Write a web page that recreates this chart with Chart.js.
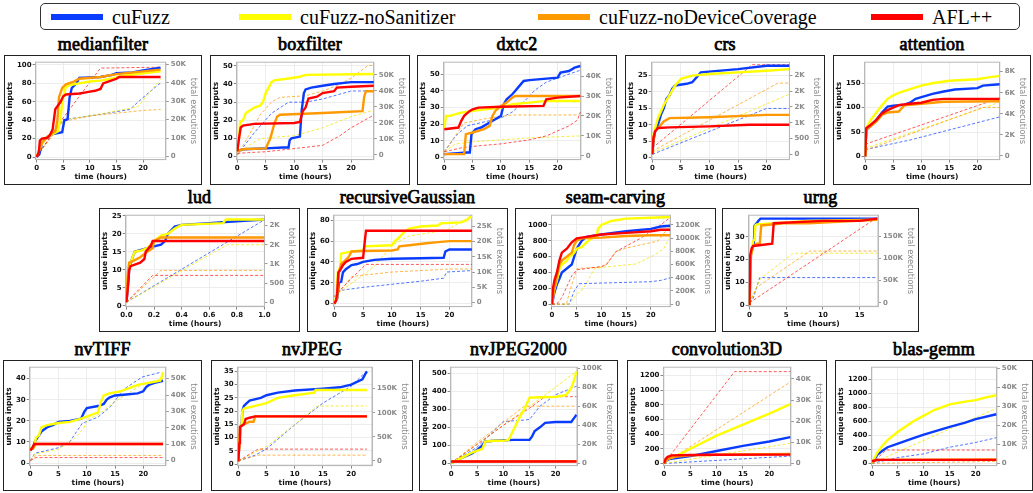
<!DOCTYPE html>
<html>
<head>
<meta charset="utf-8">
<script src="https://cdn.jsdelivr.net/npm/chart.js@4.4.0/dist/chart.umd.min.js"></script>
<style>
body { margin: 0; width: 1033px; height: 493px; background: #fff; position: relative; overflow: hidden; }
.legend { position: absolute; left: 40px; top: 3px; width: 980px; height: 27px; border: 1px solid #333; border-radius: 5px; box-sizing: border-box; font-family: "Liberation Serif", serif; font-size: 20px; }
.item { position: absolute; top: 1px; height: 24px; display: flex; align-items: center; white-space: nowrap; }
.swatch { width: 52px; height: 6px; margin-right: 9px; }
.title { position: absolute; width: 200px; text-align: center; font-family: "Liberation Serif", serif; font-weight: normal; -webkit-text-stroke: 0.75px #000; font-size: 18px; line-height: 20px; letter-spacing: 0.2px; }
.box { position: absolute; border: 1.5px solid #222; box-sizing: border-box; }
</style>
</head>
<body>
<div class="legend" id="legend"></div>
<script>
"use strict";

// series order everywhere: cuFuzz, cuFuzz-noSanitizer, cuFuzz-noDeviceCoverage, AFL++
const seriesNames = ['cuFuzz', 'cuFuzz-noSanitizer', 'cuFuzz-noDeviceCoverage', 'AFL++'];

// points are flat [hour, value, hour, value, ...]; executions are in thousands
const medianfilterInputs = [
    [0,0, 0.5,3, 1,15, 2,22, 3,25, 4,26, 4.8,27, 5.2,40, 5.8,41, 6.2,65, 6.6,75, 7.5,80, 8,86, 12,87, 14,89, 15,91, 18,92, 20,94, 23.3,97],
    [0,0, 1,15, 2,22, 3,25, 4,28, 4.4,40, 4.9,62, 5.4,75, 6,78, 8,80, 10,82, 12,83, 14,85, 16,88, 20,91, 23.3,93],
    [0,0, 1,16, 2,22, 3.5,28, 3.9,40, 4.2,65, 4.8,75, 5.5,79, 6,80, 7,82, 8,85, 12,87, 15,90, 20,93, 23.3,95],
    [0,0, 0.4,5, 0.6,18, 1,20, 2,21, 2.5,24, 3,30, 3.5,52, 4,56, 4.5,60, 5,66, 5.5,68, 8,69, 9,70, 10,71, 11,72, 12,74, 12.5,80, 14,83, 15,85, 15.5,87, 23.3,87]
];
const medianfilterExecs = [
    [0,0, 5,20, 10,22, 17.5,25.5, 20,32, 23.3,40],
    [0,0, 5,20, 10,22, 19,27, 23.3,42],
    [0,0, 5,19, 10,22, 20,25, 23.3,25.5],
    [0,0, 5,21, 12,48, 23.3,48.5]
];

const boxfilterInputs = [
    [0,3, 1,4, 5,4.5, 8,5, 9,5, 9.2,9, 9.5,10, 11,11, 11.3,25, 11.7,35, 12,37, 13,38, 15,39, 17,40, 20,41, 24,41],
    [0,3, 0.3,10, 0.5,19, 1,20, 1.5,24, 2,25, 3,27, 4,28, 4.5,30, 5,35, 5.5,38, 6,41, 6.5,42, 9,43, 11,44, 12,45, 24,45.5],
    [0,3, 1,4, 5,4.5, 5.8,10, 6.5,18, 7,22, 7.5,23, 15,24, 22,25, 22.3,33, 22.6,36, 24,36],
    [0,3, 0.3,10, 0.6,16, 1,17, 3,18, 10,18.5, 11,19, 11.5,25, 12,27, 12.5,32, 14,33, 15,35, 17,36, 17.5,38, 20,38.5, 24,39]
];
const boxfilterExecs = [
    [0,0, 3,14, 6,26, 9,33, 12,33, 15,35, 20,40, 24,40],
    [0,0, 2,6, 4,10, 6,11, 10,12, 12,14, 15,17, 20,24, 24,28],
    [0,0, 2,12, 4,25, 6,33, 7.5,36, 12,37, 15,40, 18,44, 20,48, 23,56, 24,56],
    [0,1, 2,1.5, 5,2, 10,4, 15,6, 18,12, 20,17, 24,25]
];

const dxtc2Inputs = [
    [0,2, 4,3, 4.5,3, 4.8,14, 5.5,17, 6.5,18, 7,19, 8,21, 9,23, 10,25, 10.5,32, 11,35, 12,38, 12.5,40, 13,42, 14,46, 15,46.5, 20,48, 20.5,51, 22,52, 23,54, 24,55],
    [0,17, 0.3,25, 1,25, 3,27, 5,28, 10,30, 12,32, 15,33, 18,34, 24,34],
    [0,2, 3.5,2, 3.8,14, 5,15, 7,17, 8,19, 8.5,25, 9,28, 10,31, 11,33, 12,36, 12.5,37, 24,37],
    [0,17, 2.5,18, 3,22, 3.5,25, 4.5,28, 5,29, 6,30, 10,30.5, 17.5,31, 18,35, 20,36, 24,37]
];
const dxtc2Execs = [
    [0,2, 2,10, 4,15, 7,17, 10,19, 12,22, 14,27, 16,33, 18,37, 21,40, 24,43],
    [0,2, 2,6, 5,7, 10,8, 15,9, 24,10],
    [0,2, 3.5,16.5, 8,19, 12,20.5, 24,20.5],
    [0,2, 3,4, 6,5, 10,6, 15,8, 18,10, 22,15, 23.5,18, 24,22]
];

const crsInputs = [
    [0,1, 0.2,5, 0.5,8, 1,10, 1.5,13, 2,15, 2.5,18, 3,19, 3.5,21, 4,22, 6,22.5, 7,23, 8,25, 8.5,26, 15,27, 20,28, 24,28],
    [0,1, 0.2,7, 0.5,9, 1,12, 2,16, 3,19, 4,22, 5,24, 7,25, 10,25.5, 15,26, 20,26.5, 24,27],
    [0,1, 0.2,6, 0.5,8, 1,9, 1.5,10, 2,11, 3,12, 10,12.3, 20,13, 24,13],
    [0,1, 0.2,6, 0.5,8, 1,9, 3,9.2, 10,9.5, 17,10, 24,10]
];
const crsExecs = [
    [0,0, 20,1.45, 24,1.45],
    [0,0.05, 24,1.9],
    [0,0.1, 22,2.25, 24,2.25],
    [0,0.2, 17.5,2.83, 24,2.83]
];

const attentionInputs = [
    [0,0, 0.2,55, 1,62, 2,75, 3,90, 4,102, 5,104, 7,106, 8,110, 9,118, 12,128, 14,133, 16,137, 20,140, 21,145, 24,148],
    [0,0, 0.2,55, 0.5,65, 1,75, 2,90, 3,105, 4,118, 5,125, 6,130, 8,138, 10,145, 12,150, 15,155, 20,158, 22,162, 24,165],
    [0,0, 0.2,55, 1,62, 2,72, 3,85, 4,90, 6,92, 7,105, 10,108, 14,112, 24,113],
    [0,0, 0.2,58, 1,65, 2,75, 3,88, 4,95, 5,100, 6,105, 8,108, 10,110, 12,116, 14,118, 24,118]
];
const attentionExecs = [
    [0,0.6, 8,1.5, 24,3.7],
    [0,0.7, 24,5.1],
    [0,0.5, 21,4.6, 24,4.6],
    [0,1.1, 24,5.5]
];

const ludInputs = [
    [0,1, 0.01,5, 0.02,10, 0.04,13, 0.06,15, 0.1,15.5, 0.15,16, 0.2,16.5, 0.25,17, 0.28,18, 0.3,20, 0.35,22, 0.4,22.5, 0.6,23, 0.8,23.5, 1,24],
    [0,1, 0.01,8, 0.03,12, 0.05,14, 0.06,15, 0.1,15.3, 0.15,16, 0.2,18, 0.25,19.5, 0.3,20, 0.35,21.5, 0.4,22.5, 0.7,23, 0.72,24, 1,24],
    [0,1, 0.01,9, 0.02,12, 0.05,12.5, 0.1,13.5, 0.15,15, 0.19,16, 0.2,18, 0.25,19, 1,19],
    [0,1, 0.01,5, 0.02,10, 0.03,11, 0.1,12, 0.13,13, 0.14,15, 0.16,16, 0.18,17, 0.19,18, 1,18]
];
const ludExecs = [
    [0,0, 1,2.15],
    [0,0, 0.73,1.5, 1,1.5],
    [0,0, 0.25,0.83, 1,0.83],
    [0,0, 0.19,0.7, 1,0.7]
];

const recursiveGaussianInputs = [
    [0,0, 0.5,5, 0.8,20, 1.2,21, 1.5,30, 2,33, 3,37, 4,38, 5,40, 7,42, 10,43, 15,43.5, 19,44, 19.3,50, 20,52, 24,52],
    [0,0, 0.3,5, 0.6,30, 1,35, 1.2,48, 2,49, 3,50, 5,51, 5.3,55, 10,56, 10.5,60, 11,62, 12,68, 13,72, 15,74, 18,75, 18.5,77, 22,78, 23,80, 23.5,83, 24,83],
    [0,0, 0.5,5, 0.8,30, 1.2,38, 2,42, 2.5,45, 3,50, 5,50.5, 10,51, 11,52, 11.3,55, 13,56, 16,58, 18,59, 20,60, 24,60],
    [0,0, 0.3,3, 0.5,10, 0.7,30, 1,32, 1.5,37, 2,40, 3,43, 5,44, 5.3,60, 5.5,70, 24,70]
];
const recursiveGaussianExecs = [
    [0,2, 1,4, 5,5, 10,6, 15,7, 19,8, 19.5,10, 24,10.5],
    [0,2, 2,5, 5,9, 7,12, 10,18.8, 13,21.8, 19.5,23.7, 23.5,28, 24,28],
    [0,2, 2,6, 3,8.5, 5,9, 10,10, 15,10.5, 20,11, 24,11],
    [0,2, 3,8, 5.5,12.5, 24,12.5]
];

const seamCarvingInputs = [
    [0,0, 0.5,150, 1,250, 1.5,320, 2,400, 3,450, 4,500, 4.5,600, 5,700, 6,800, 7,850, 10,880, 15,920, 20,950, 22,980, 24,990],
    [0,0, 0.3,150, 1,300, 1.5,450, 2,500, 3,550, 3.5,600, 4,620, 4.5,650, 5,700, 6,720, 7,780, 8,830, 9,850, 9.3,950, 10,1000, 12,1050, 15,1080, 20,1090, 24,1100],
    [0,0, 0.5,200, 1,350, 1.5,500, 2,550, 3,600, 4,650, 4.5,750, 5,800, 6,830, 10,840, 15,860, 20,870, 24,870],
    [0,0, 0.2,200, 0.5,300, 1,400, 1.5,550, 2,650, 3,700, 4,780, 5,830, 7,850, 10,880, 15,900, 20,920, 22,940, 24,940]
];
const seamCarvingExecs = [
    [0,0, 3.5,0, 4.5,200, 5.5,310, 10,320, 20,340, 22,360, 24,400],
    [0,0, 3.5,0, 5,150, 6.4,240, 8.6,540, 10.8,563, 17,609, 20.8,748, 22.6,840, 24,1030],
    [0,0, 2.9,0, 4,300, 5.1,540, 10.1,563, 11,600, 12.9,794, 15,850, 18,900, 21.4,955, 23.6,1163, 24,1200],
    [0,0, 1,5, 2,100, 4,430, 5,520, 10,570, 11,600, 12,700, 13,800, 15,880, 18,1000, 20,1100, 22,1200, 24,1320]
];

const urngInputs = [
    [0,0, 0.2,22, 0.4,25, 0.6,27, 0.7,35, 1,36, 1.2,37, 1.5,38, 17.4,38],
    [0,0, 0.2,22, 0.5,28, 0.7,29, 0.8,35, 1,35.5, 6,36.5, 8,37, 17.4,37.5],
    [0,0, 0.2,22, 0.5,26, 1,27, 1.4,27, 1.6,35, 5,36, 8,36, 17.4,37.5],
    [0,0, 0.1,22, 0.3,25, 0.5,26, 3.1,27, 3.3,36, 10,37, 15,37, 17.4,38]
];
const urngExecs = [
    [0,0, 0.5,10, 1.4,57, 17.4,57],
    [0,0, 1.5,55, 6,112, 17.4,112],
    [0,0, 1,35, 8.2,117, 17.4,117],
    [0,0, 17.4,193]
];

const nvTIFFInputs = [
    [0,7, 0.5,7, 0.8,10, 1,11, 1.5,13, 2,15, 2.5,16, 3,17, 4,18, 5,19.5, 7,20, 9,21, 9.5,24, 10,26, 12,27, 13,28, 13.5,30, 14,31, 15,32, 17,32.5, 19,33, 20,34, 20.5,36, 21,37, 22,38, 23.5,39],
    [0,7, 0.5,7, 0.8,9, 1,12, 1.5,13, 2,17, 3,18, 5,19, 7,19.5, 9,21, 10,22, 11,23, 12,24, 12.5,29, 13,32, 14,33, 16,34, 17,35, 18,36, 19,37, 20,37.5, 21,38, 23,39, 23.3,41, 23.5,43],
    [0,6, 0.5,7, 1,9, 23.5,9],
    [0,6, 0.3,7, 0.5,8, 0.7,9, 23.5,9]
];
const nvTIFFExecs = [
    [0,0, 0.8,4.5, 5,7.9, 7,11.6, 9.2,22.8, 12,26.6, 14.2,33, 16.5,43.4, 19.8,51, 23.2,54],
    [0,0, 0.8,4, 5,7, 8,14, 9.5,20, 10,25, 12,28, 15,36, 20,47, 23.5,50],
    [0,0, 1,3.2, 23.5,3.2],
    [0,0, 1,1.9, 23.5,1.9]
];

const nvJPEGInputs = [
    [0,1, 0.2,8, 0.4,14, 0.6,15, 0.7,20, 1,22, 1.5,23, 2,24, 4,25, 5,26, 7,27, 10,27.8, 15,28.5, 18,29, 20,30, 22,32, 22.5,34, 22.8,35],
    [0,1, 0.2,8, 0.4,14, 0.6,15, 0.7,20, 1,21, 3,22, 5,23, 7,25, 10,26, 13.5,27, 13.7,28, 22.8,28],
    [0,1, 0.3,14, 1,15, 2,16, 2.7,16, 3,18, 22.8,18],
    [0,1, 0.2,8, 0.3,14, 1,15, 1.3,17, 2,17.5, 3,18, 22.8,18]
];
const nvJPEGExecs = [
    [0,0, 3,12, 5,25, 10,75, 15,120, 20,155, 22.8,187],
    [0,0, 5,30, 10,75, 14,114, 22.8,114],
    [0,0, 3.5,12, 22.8,12],
    [0,0, 3.5,24.5, 22.8,24.5]
];

const nvJPEG2000Inputs = [
    [0,0, 2,30, 4,55, 5,75, 6,100, 6.5,120, 8,125, 12,130, 15,130, 15.5,150, 16,180, 17,200, 18,225, 20,230, 23,230, 23.5,250, 24,270],
    [0,0, 2,30, 4,60, 5,70, 6,80, 6.5,120, 8,125, 10,125, 11,130, 12,190, 13,250, 14,300, 15,365, 17,368, 20,370, 22,380, 23,420, 23.5,460, 24,510],
    [0,10, 24,12],
    [0,10, 24,10]
];
const nvJPEG2000Execs = [
    [0,0, 5,17, 10,44, 13,45, 15,46, 17,60, 20,72, 24,81],
    [0,0, 5,20, 10,40, 15,60, 20,80, 24,97],
    [0,0, 5,22, 10,43, 14,60, 24,60],
    [0,0, 5,20, 10,40, 15,58, 18,70, 24,70]
];

const convolution3DInputs = [
    [0,0, 0.5,40, 1,60, 2,70, 5,100, 10,170, 15,240, 20,300, 24,360],
    [0,0, 0.5,50, 1,70, 2,90, 5,200, 10,380, 15,530, 20,680, 24,810],
    [0,0, 0.5,50, 1,70, 2,90, 5,110, 10,120, 24,130],
    [0,0, 0.3,60, 0.7,90, 1.5,110, 5,115, 10,118, 24,120]
];
const convolution3DExecs = [
    [0,0, 24,3.5],
    [0,0, 24,9.5],
    [0,0, 24,38.5],
    [0,0, 13.4,43.4, 24,43.4]
];

const blasGemmInputs = [
    [0,0, 0.5,60, 1,120, 2,180, 3,230, 5,280, 8,360, 10,410, 15,520, 18,580, 20,630, 24,700],
    [0,0, 0.5,80, 1,150, 2,250, 3,330, 5,450, 8,600, 10,680, 12,760, 15,840, 18,880, 20,900, 22,940, 24,970],
    [0,30, 1,50, 24,55],
    [0,30, 1,50, 24,50]
];
const blasGemmExecs = [
    [0,0, 5,3, 10,5, 15,8.5, 20,11, 24,13.5],
    [0,0, 24,29],
    [0,0, 24,1],
    [0,0, 2.7,7, 24,7]
];

const panelTitles = ['medianfilter', 'boxfilter', 'dxtc2', 'crs', 'attention',
    'lud', 'recursiveGaussian', 'seam-carving', 'urng',
    'nvTIFF', 'nvJPEG', 'nvJPEG2000', 'convolution3D', 'blas-gemm'];
const panelInputs = [medianfilterInputs, boxfilterInputs, dxtc2Inputs, crsInputs, attentionInputs,
    ludInputs, recursiveGaussianInputs, seamCarvingInputs, urngInputs,
    nvTIFFInputs, nvJPEGInputs, nvJPEG2000Inputs, convolution3DInputs, blasGemmInputs];
const panelExecs = [medianfilterExecs, boxfilterExecs, dxtc2Execs, crsExecs, attentionExecs,
    ludExecs, recursiveGaussianExecs, seamCarvingExecs, urngExecs,
    nvTIFFExecs, nvJPEGExecs, nvJPEG2000Execs, convolution3DExecs, blasGemmExecs];

// [min, max, tick step]
const xAxes = [[-0.2,24.3,5], [-0.1,24,5], [-0.1,24.1,5], [-0.1,24,5], [-0.1,24,5],
    [-0.005,1,0.2], [-0.1,23.9,5], [-0.1,23.9,5], [-0.1,17.5,5],
    [-0.1,24,5], [-0.1,23.7,5], [-0.1,24.1,5], [-0.1,24.1,5], [-0.1,24.1,5]];
const leftAxes = [[-2.7,103,20], [-1.7,52,10], [-1.3,57.3,10], [-0.66,29.1,5], [-6.4,193,50],
    [-0.25,25.2,5], [-2.9,84.9,20], [-31,1123,200], [-0.6,39.5,10],
    [-1.2,45.4,10], [-0.6,36.6,5], [-13,535,100], [-30,1316,200], [-32,1370,200]];
const rightAxes = [[-1.7,51.2,10], [-2.9,58,10], [-1.9,47,10], [-0.165,2.91,0.5], [-0.36,8.9,2],
    [-0.114,2.27,0.5], [-1.3,28.6,5], [-37,1348,200], [-8.6,198,50],
    [-3,57,10], [-9.7,194.5,50], [-2.4,101,20], [-1,45.5,10], [-1.2,50.7,10]];

// layout: box left, top, width, height
const panelBoxes = [
    [4,55,198,130], [210,55,200,130], [417,55,200,130], [625,55,200,130], [833,55,198,130],
    [99,208,201,124], [307,208,201,124], [515,208,201,124], [722,208,197,124],
    [3,360,199,131], [211,360,202,131], [419,360,199,131], [627,360,200,131], [835,360,198,131]
];

const lineColors = ['#0a3cff', '#ffff00', '#ff9900', '#ff0000'];
const dashColors = ['rgba(10,60,255,0.7)', 'rgba(240,230,0,0.75)', 'rgba(255,153,0,0.7)', 'rgba(255,0,0,0.65)'];

const legendLefts = [10, 198, 497, 830];
const legend = document.getElementById('legend');
seriesNames.forEach((name, k) => {
    const item = document.createElement('div');
    item.className = 'item';
    item.style.left = legendLefts[k] + 'px';
    item.innerHTML = '<span class="swatch" style="background:' + lineColors[k] + '"></span>' + name;
    legend.appendChild(item);
});

function toPoints(flat) {
    const out = [];
    for (let i = 0; i < flat.length; i += 2) out.push({x: flat[i], y: flat[i + 1]});
    return out;
}
function tickList(min, max, step) {
    const ticks = [];
    const start = Math.ceil((min - 1e-9) / step) * step;
    for (let v = start; v <= max + 1e-9; v += step) ticks.push({value: Math.round(v * 1e6) / 1e6});
    return ticks;
}
function roundHalfEven(x) {
    const r = Math.round(x);
    return (Math.abs(x % 1) === 0.5 && r % 2 !== 0) ? r - 1 : r;
}
function execLabel(v) {
    if (v === 0) return '0';
    if (v < 1) return String(Math.round(v * 1000));
    return roundHalfEven(v) + 'K';
}

const framePlugin = {
    id: 'frame',
    beforeDatasetsDraw(chart) {
        const a = chart.chartArea, c = chart.ctx;
        c.save();
        c.strokeStyle = '#b8b8b8';
        c.lineWidth = 1;
        c.strokeRect(a.left, a.top, a.right - a.left, a.bottom - a.top);
        c.restore();
    }
};

const tickFont = {family: 'DejaVu Sans', size: 7, weight: 'bold'};
const axisFont = {family: 'DejaVu Sans', size: 7.5, weight: 'bold'};

panelTitles.forEach((title, i) => {
    const [left, top, w, h] = panelBoxes[i];
    const t = document.createElement('div');
    t.className = 'title';
    t.style.left = (left + w / 2 - 100) + 'px';
    t.style.top = (top - 21) + 'px';
    t.textContent = title;
    document.body.appendChild(t);

    const box = document.createElement('div');
    box.className = 'box';
    box.style.left = left + 'px';
    box.style.top = top + 'px';
    box.style.width = w + 'px';
    box.style.height = h + 'px';
    const canvas = document.createElement('canvas');
    canvas.width = w - 3;
    canvas.height = h - 3;
    box.appendChild(canvas);
    document.body.appendChild(box);

    // lower order is drawn on top: AFL++ solid above the others, dashed lines underneath
    const datasets = [];
    panelExecs[i].forEach((s, k) => datasets.push({
        data: toPoints(s), yAxisID: 'yr', borderColor: dashColors[k], borderWidth: 1,
        borderDash: [3, 2], pointRadius: 0, tension: 0, order: 20 - k
    }));
    panelInputs[i].forEach((s, k) => datasets.push({
        data: toPoints(s), yAxisID: 'yl', borderColor: lineColors[k], borderWidth: 2.4,
        pointRadius: 0, tension: 0, order: 10 - k
    }));

    const xr = xAxes[i], lr = leftAxes[i], rr = rightAxes[i];
    new Chart(canvas, {
        type: 'line',
        data: {datasets: datasets},
        options: {
            responsive: false,
            animation: false,
            layout: {padding: {top: 3, right: 1, bottom: 0, left: 1}},
            plugins: {legend: {display: false}, tooltip: {enabled: false}},
            scales: {
                x: {
                    type: 'linear', min: xr[0], max: xr[1],
                    afterBuildTicks: a => { a.ticks = tickList(xr[0], xr[1], xr[2]); },
                    ticks: {font: tickFont, color: '#111', padding: 1, maxRotation: 0, autoSkip: false,
                        callback: v => xr[2] < 1 ? v.toFixed(1) : String(v)},
                    grid: {color: '#e8e8e8', lineWidth: 0.8, tickLength: 3, tickColor: '#666'},
                    border: {color: '#b8b8b8'},
                    title: {display: true, text: 'time (hours)', font: axisFont, color: '#111', padding: {top: 0, bottom: 1}}
                },
                yl: {
                    type: 'linear', position: 'left', min: lr[0], max: lr[1],
                    afterBuildTicks: a => { a.ticks = tickList(lr[0], lr[1], lr[2]); },
                    ticks: {font: tickFont, color: '#111', padding: 1, autoSkip: false, callback: v => String(v)},
                    grid: {color: '#e8e8e8', lineWidth: 0.8, tickLength: 3, tickColor: '#666'},
                    border: {color: '#b8b8b8'},
                    title: {display: true, text: 'unique inputs', font: axisFont, color: '#111', padding: {top: 0, bottom: 1}}
                },
                yr: {
                    type: 'linear', position: 'right', min: rr[0], max: rr[1],
                    afterBuildTicks: a => { a.ticks = tickList(rr[0], rr[1], rr[2]); },
                    ticks: {font: tickFont, color: '#8a8a8a', padding: 2, autoSkip: false, callback: v => execLabel(v)},
                    grid: {drawOnChartArea: false, tickLength: 3, tickColor: '#999'},
                    border: {color: '#b8b8b8'},
                    title: {display: true, text: 'total executions', font: {family: 'DejaVu Sans', size: 8.3}, color: '#8a8a8a', padding: {top: 1, bottom: 0}}
                }
            }
        },
        plugins: [framePlugin]
    });
});
</script>
</body>
</html>
